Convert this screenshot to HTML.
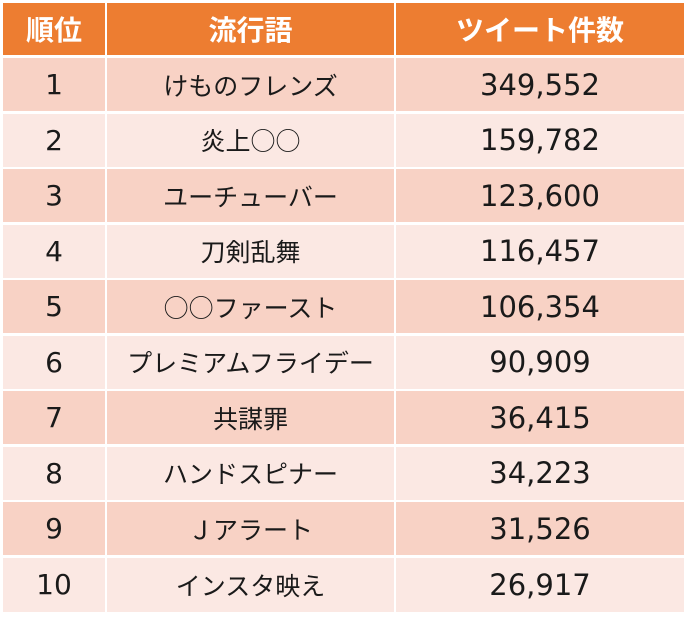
<!DOCTYPE html>
<html><head><meta charset="utf-8"><style>
html,body{margin:0;padding:0;background:#fff;width:690px;height:624px;overflow:hidden;position:relative}
.r{position:absolute;left:3px;width:681px;display:flex}
.r div{box-sizing:border-box;border-right:2px solid #fff;display:flex;align-items:center;justify-content:center;color:#1a1a1a}
.c1{width:104px;font-family:"DejaVu Sans",sans-serif;font-size:28px}
.c2{width:289px;font-family:"Noto Sans CJK JP",sans-serif;font-size:25px}
.c3{width:288px;border-right:none!important;font-family:"DejaVu Sans",sans-serif;font-size:29px}
.h div{background:#ED7D31;color:#fff!important;font-family:"Noto Sans CJK JP",sans-serif;font-weight:bold;font-size:28px}
.o div{background:#F8D2C5}
.e div{background:#FBE8E3}
</style></head><body>
<div class="r h" style="top:3px;height:52px"><div class="c1" style="font-family:'Noto Sans CJK JP',sans-serif">順位</div><div class="c2" style="font-size:28px">流行語</div><div class="c3" style="font-family:'Noto Sans CJK JP',sans-serif;font-size:28px">ツイート件数</div></div>
<div class="r o" style="top:58px;height:53px"><div class="c1">1</div><div class="c2">けものフレンズ</div><div class="c3">349,552</div></div>
<div class="r e" style="top:113.5px;height:53px"><div class="c1">2</div><div class="c2">炎上○○</div><div class="c3">159,782</div></div>
<div class="r o" style="top:169px;height:53px"><div class="c1">3</div><div class="c2">ユーチューバー</div><div class="c3">123,600</div></div>
<div class="r e" style="top:224.5px;height:53px"><div class="c1">4</div><div class="c2">刀剣乱舞</div><div class="c3">116,457</div></div>
<div class="r o" style="top:280px;height:53px"><div class="c1">5</div><div class="c2">○○ファースト</div><div class="c3">106,354</div></div>
<div class="r e" style="top:335.5px;height:53px"><div class="c1">6</div><div class="c2">プレミアムフライデー</div><div class="c3">90,909</div></div>
<div class="r o" style="top:391px;height:53px"><div class="c1">7</div><div class="c2">共謀罪</div><div class="c3">36,415</div></div>
<div class="r e" style="top:446.5px;height:53px"><div class="c1">8</div><div class="c2">ハンドスピナー</div><div class="c3">34,223</div></div>
<div class="r o" style="top:502px;height:53px"><div class="c1">9</div><div class="c2">Ｊアラート</div><div class="c3">31,526</div></div>
<div class="r e" style="top:557.5px;height:54px"><div class="c1">10</div><div class="c2">インスタ映え</div><div class="c3">26,917</div></div>
</body></html>
